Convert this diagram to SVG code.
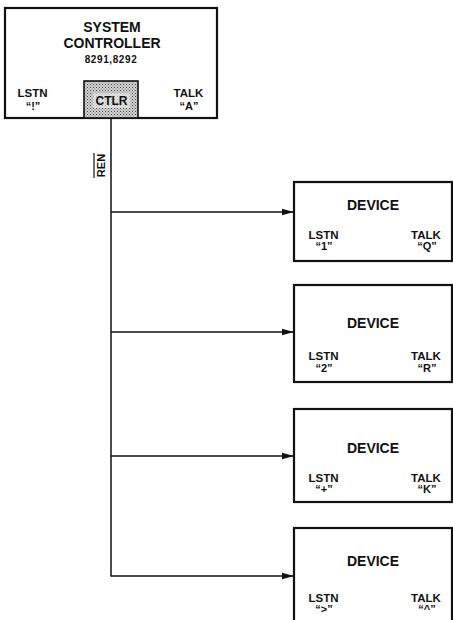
<svg xmlns="http://www.w3.org/2000/svg" width="453" height="620" viewBox="0 0 453 620">
<defs>
<style>
.box{fill:#fff;stroke:#111;stroke-width:2.2}
.t{font-family:"Liberation Sans",Arial,sans-serif;font-weight:bold;fill:#111;text-anchor:middle}
.big{font-size:14px}
.lbl{font-size:11.5px}
.q{font-size:11px}
.wire{fill:none;stroke:#111;stroke-width:1.5}
</style>
<pattern id="stip" width="3" height="3" patternUnits="userSpaceOnUse">
<rect width="3" height="3" fill="#d4d4d4"/>
<rect x="0" y="0" width="1" height="1" fill="#444"/>
<rect x="1.5" y="1.5" width="1" height="1" fill="#666"/>
</pattern>
<marker id="arr" markerWidth="12" markerHeight="8" refX="12" refY="4" orient="auto" markerUnits="userSpaceOnUse">
<path d="M0,0.8 L12,4 L0,7.2 Z" fill="#111"/>
</marker>
</defs>
<rect width="453" height="620" fill="#fff"/>

<g id="controller">
<rect class="box" x="5" y="8" width="212" height="110"/>
<text class="t big" x="112" y="32">SYSTEM</text>
<text class="t big" x="112" y="48">CONTROLLER</text>
<text class="t" x="111" y="63" font-size="10" letter-spacing="0.6">8291,8292</text>
<text class="t lbl" x="32.5" y="97">LSTN</text>
<text class="t q" x="33" y="110">“!”</text>
<text class="t lbl" x="188.5" y="97">TALK</text>
<text class="t q" x="189" y="110">“A”</text>
</g>
<g id="ctlr">
<rect x="84" y="81" width="54" height="37" fill="url(#stip)" stroke="#111" stroke-width="1.6"/>
<rect x="93" y="93" width="37" height="15" fill="#f2f2f2" opacity="0.55"/>
<text class="t" font-size="12" x="111.5" y="105">CTLR</text>
</g>

<g id="connectors">
<line class="wire" x1="111" y1="118" x2="111" y2="576.5"/>
<line class="wire" x1="111" y1="212" x2="294" y2="212" marker-end="url(#arr)"/>
<line class="wire" x1="111" y1="332" x2="294" y2="332" marker-end="url(#arr)"/>
<line class="wire" x1="111" y1="456" x2="294" y2="456" marker-end="url(#arr)"/>
<line class="wire" x1="111" y1="576" x2="294" y2="576" marker-end="url(#arr)"/>
<text class="t" font-size="11" x="105" y="165.5" transform="rotate(-90 105 165.5)">REN</text>
<line x1="94" y1="153" x2="94" y2="178" stroke="#111" stroke-width="1.2"/>
</g>

<g id="device1">
<rect class="box" x="294" y="182" width="158" height="79"/>
<text class="t big" x="373" y="209.5">DEVICE</text>
<text class="t lbl" x="323.5" y="239">LSTN</text>
<text class="t q" x="324" y="250">“1”</text>
<text class="t lbl" x="426" y="239">TALK</text>
<text class="t q" x="427" y="250">“Q”</text>
</g>
<g id="device2">
<rect class="box" x="294" y="285" width="158" height="97"/>
<text class="t big" x="373" y="328">DEVICE</text>
<text class="t lbl" x="323.5" y="360">LSTN</text>
<text class="t q" x="324" y="371.5">“2”</text>
<text class="t lbl" x="426" y="360">TALK</text>
<text class="t q" x="427" y="371.5">“R”</text>
</g>
<g id="device3">
<rect class="box" x="294" y="409" width="158" height="93"/>
<text class="t big" x="373" y="453">DEVICE</text>
<text class="t lbl" x="323.5" y="482">LSTN</text>
<text class="t q" x="324" y="493">“+”</text>
<text class="t lbl" x="426" y="482">TALK</text>
<text class="t q" x="427" y="493">“K”</text>
</g>
<g id="device4">
<rect class="box" x="294" y="528" width="158" height="100"/>
<text class="t big" x="373" y="566">DEVICE</text>
<text class="t lbl" x="323.5" y="602">LSTN</text>
<text class="t q" x="324" y="613">“&gt;”</text>
<text class="t lbl" x="426" y="602">TALK</text>
<text class="t q" x="427" y="613">“^”</text>
</g>
</svg>
